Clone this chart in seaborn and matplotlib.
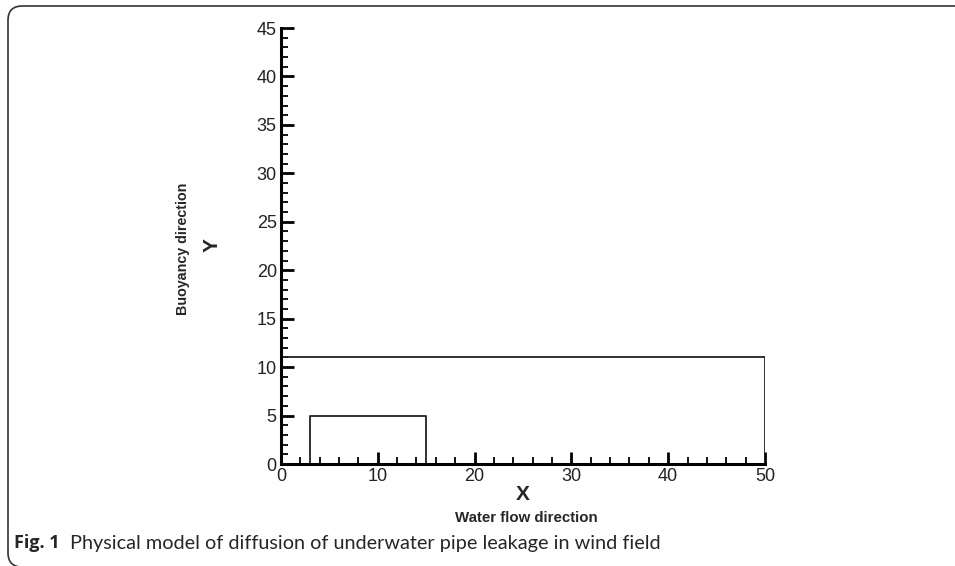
import matplotlib
matplotlib.use("Agg")
import matplotlib.pyplot as plt
import seaborn as sns
import pandas as pd
from matplotlib.patches import FancyBboxPatch
from matplotlib.ticker import MultipleLocator

# Data: domain outline and pipe box
domain_x = [0, 50, 50]
domain_y = [11, 11, 0]
pipe_x = [3, 3, 15, 15]
pipe_y = [0, 5, 5, 0]
x_ticks = [0, 10, 20, 30, 40, 50]
y_ticks = [0, 5, 10, 15, 20, 25, 30, 35, 40, 45]

sns.set_theme(style="white")
plt.rcParams['font.family'] = ['Liberation Sans', 'DejaVu Sans']

fig = plt.figure(figsize=(9.55, 5.66), dpi=100)
ax = fig.add_axes([0.2942, 0.1802, 0.5068, 0.7703])

dom = pd.DataFrame({"x": domain_x, "y": domain_y})
pipe = pd.DataFrame({"x": pipe_x, "y": pipe_y})
sns.lineplot(data=dom, x="x", y="y", sort=False, estimator=None, color="#222222", lw=1.3, ax=ax)
sns.lineplot(data=pipe, x="x", y="y", sort=False, estimator=None, color="#222222", lw=1.3, ax=ax)

ax.set_xlim(0, 50)
ax.set_ylim(0, 45)
ax.set_xticks(x_ticks)
ax.set_yticks(y_ticks)
ax.xaxis.set_minor_locator(MultipleLocator(2))
ax.yaxis.set_minor_locator(MultipleLocator(1))
for s in ["top", "right"]:
    ax.spines[s].set_visible(False)
for s in ["left", "bottom"]:
    ax.spines[s].set_linewidth(2.2)
    ax.spines[s].set_color("black")
ax.tick_params(which="major", direction="in", length=9, width=2, color="black",
               labelsize=13, pad=3, labelcolor="#222222")
ax.tick_params(which="minor", direction="in", length=5, width=1.3, color="black")
ax.tick_params(axis="both", which="both", left=True, bottom=True)
ax.set_xlabel("")
ax.set_ylabel("")
ax.patch.set_alpha(0)

# axis titles
fig.text(523/955, 1-494/566, "X", ha="center", va="center", fontsize=15, fontweight="bold")
fig.text(526/955, 1-518/566, "Water flow direction", ha="center", va="center",
         fontsize=10.8, fontweight="bold", family=['Liberation Sans Narrow', 'Liberation Sans'])
fig.text(212/955, 1-245/566, "Y", ha="center", va="center", fontsize=15,
         fontweight="bold", rotation=90)
fig.text(183/955, 1-249/566, "Buoyancy direction", ha="center", va="center",
         fontsize=10.3, fontweight="bold", rotation=90,
         family=['Liberation Sans Narrow', 'Liberation Sans'])

# caption
fig.text(14/955, 1-543/566, "Fig. 1", ha="left", va="center", fontsize=13,
         fontweight="bold", family=['Open Sans', 'DejaVu Sans'])
fig.text(70/955, 1-543/566, "Physical model of diffusion of underwater pipe leakage in wind field",
         ha="left", va="center", fontsize=14.3, family=['Lato', 'DejaVu Sans'])

# frame
frame = FancyBboxPatch((8/955, -1/566), 1.2, (566-6+1)/566,
                       boxstyle="round,pad=0,rounding_size=0.015",
                       transform=fig.transFigure, fill=False, ec="#333333", lw=1.2,
                       mutation_aspect=955/566)
fig.patches.append(frame)

fig.savefig("out.png", dpi=100)
